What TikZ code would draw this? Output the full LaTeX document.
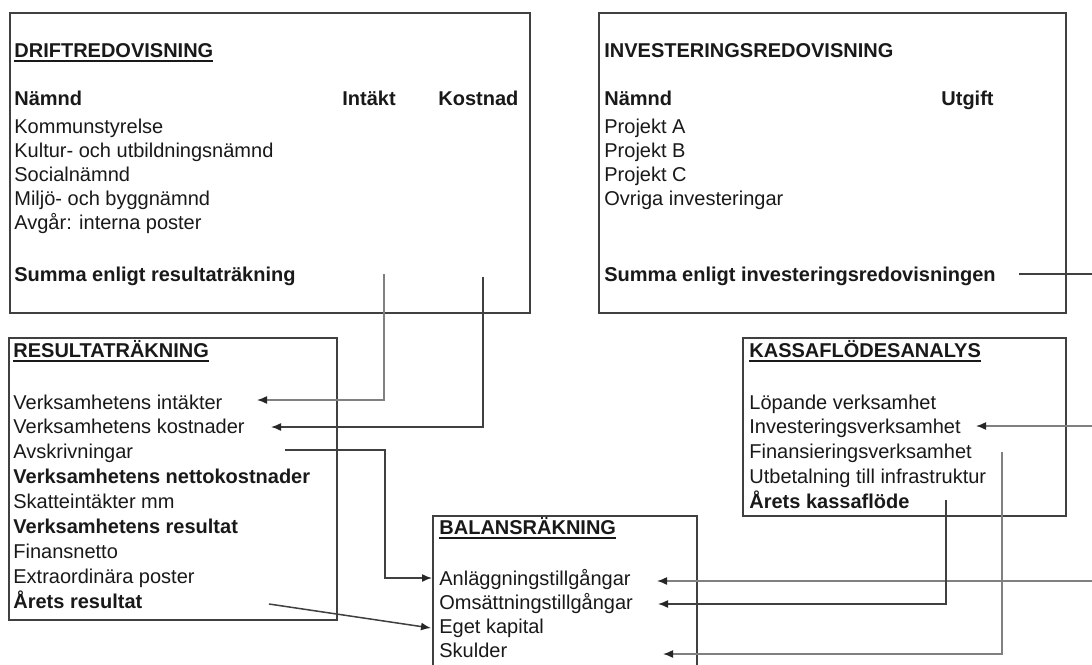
\documentclass[tikz,border=0pt]{standalone}
\usepackage{fontspec}
\setmainfont{Liberation Sans}
\usetikzlibrary{arrows.meta}

\newcommand{\ultitle}[1]{\setbox0\hbox{\bfseries #1}\rlap{\rule[-2.4pt]{\wd0}{0.8pt}}\box0}

\tikzset{
	box/.style = {draw = black!75, line width = 1.1pt},
	row/.style = {anchor = base west, inner sep = 0pt, text = black!90, font = \fontsize{10pt}{12pt}\selectfont},
	head/.style = {row, font = \fontsize{10pt}{12pt}\selectfont\bfseries},
	link/.style = {black!75, line width = 0.75pt},
	linklight/.style = {black!50, line width = 0.75pt},
	tip/.style = {-{Latex[length = 5pt, width = 4pt, black!85]}}
}

\begin{document}
\begin{tikzpicture}[x = 0.5pt, y = -0.5pt]
	\useasboundingbox[fill = white] (0, 0) rectangle (1092, 664);

	% boxes
	\draw[box] (10, 13) rectangle (530, 313);
	\draw[box] (599, 13) rectangle (1066, 313);
	\draw[box] (9, 338) rectangle (337, 620);
	\draw[box] (743, 338) rectangle (1066, 516);
	\draw[box] (433, 670) -- (433, 516) -- (697, 516) -- (697, 670);

	% driftredovisning
	\node[head] (drift) at (14, 57) {\ultitle{DRIFTREDOVISNING}};
	\node[head] (drift-namnd) at (14, 105) {Nämnd};
	\node[head] (drift-intakt) at (342, 105) {Intäkt};
	\node[head] (drift-kostnad) at (438, 105) {Kostnad};
	\node[row] (drift-ks) at (14, 133) {Kommunstyrelse};
	\node[row] (drift-ku) at (14, 157) {Kultur- och utbildningsnämnd};
	\node[row] (drift-so) at (14, 181) {Socialnämnd};
	\node[row] (drift-mb) at (14, 205) {Miljö- och byggnämnd};
	\node[row] (drift-av) at (14, 229) {Avgår: interna poster};
	\node[head] (drift-summa) at (14, 281) {Summa enligt resultaträkning};

	% investeringsredovisning
	\node[head] (inv) at (604, 57) {INVESTERINGSREDOVISNING};
	\node[head] (inv-namnd) at (604, 105) {Nämnd};
	\node[head] (inv-utgift) at (941, 105) {Utgift};
	\node[row] (inv-a) at (604, 133) {Projekt A};
	\node[row] (inv-b) at (604, 157) {Projekt B};
	\node[row] (inv-c) at (604, 181) {Projekt C};
	\node[row] (inv-ov) at (604, 205) {Ovriga investeringar};
	\node[head] (inv-summa) at (604, 281) {Summa enligt investeringsredovisningen};

	% resultatrakning
	\node[head] (res) at (13, 357) {\ultitle{RESULTATRÄKNING}};
	\node[row] (res-int) at (13, 409) {Verksamhetens intäkter};
	\node[row] (res-kost) at (13, 433) {Verksamhetens kostnader};
	\node[row] (res-avs) at (13, 458) {Avskrivningar};
	\node[head] (res-netto) at (13, 483) {Verksamhetens nettokostnader};
	\node[row] (res-skatt) at (13, 508) {Skatteintäkter mm};
	\node[head] (res-vres) at (13, 533) {Verksamhetens resultat};
	\node[row] (res-fin) at (13, 558) {Finansnetto};
	\node[row] (res-extra) at (13, 583) {Extraordinära poster};
	\node[head] (res-arets) at (13, 608) {Årets resultat};

	% kassaflodesanalys
	\node[head] (kassa) at (749, 357) {\ultitle{KASSAFLÖDESANALYS}};
	\node[row] (kassa-lop) at (749, 409) {Löpande verksamhet};
	\node[row] (kassa-inv) at (749, 433) {Investeringsverksamhet};
	\node[row] (kassa-fin) at (749, 458) {Finansieringsverksamhet};
	\node[row] (kassa-utb) at (749, 483) {Utbetalning till infrastruktur};
	\node[head] (kassa-arets) at (749, 508) {Årets kassaflöde};

	% balansrakning
	\node[head] (bal) at (439, 534) {\ultitle{BALANSRÄKNING}};
	\node[row] (bal-anl) at (439, 585) {Anläggningstillgångar};
	\node[row] (bal-oms) at (439, 609) {Omsättningstillgångar};
	\node[row] (bal-eget) at (439, 633) {Eget kapital};
	\node[row] (bal-skuld) at (439, 657) {Skulder};

	% connector ends
	\coordinate (drift-int-out) at (384, 274);
	\coordinate (drift-kost-out) at (483, 277);
	\coordinate (res-int-in) at (257, 400);
	\coordinate (res-kost-in) at (271, 427);
	\coordinate (res-avs-out) at (285, 450);
	\coordinate (res-avs-turn) at (385, 450);
	\coordinate (res-arets-out) at (269, 604);
	\coordinate (bal-anl-in) at (432, 578);
	\coordinate (bal-eget-in) at (431, 628);
	\coordinate (inv-summa-out) at (1019, 274);
	\coordinate (inv-edge) at (1092, 274);
	\coordinate (kassa-inv-edge) at (1092, 426);
	\coordinate (kassa-inv-in) at (976, 426);
	\coordinate (anl-edge) at (1092, 581);
	\coordinate (bal-anl-right) at (657, 581);
	\coordinate (kassa-arets-out) at (946, 500);
	\coordinate (bal-oms-in) at (658, 604);
	\coordinate (kassa-fin-out) at (1002, 452);
	\coordinate (bal-skuld-in) at (663, 654);

	% connectors
	\draw[linklight, tip] (drift-int-out) |- (res-int-in);
	\draw[link, tip] (drift-kost-out) |- (res-kost-in);
	\draw[link, tip] (res-avs-out) -- (res-avs-turn) |- (bal-anl-in);
	\draw[link, tip] (res-arets-out) -- (bal-eget-in);
	\draw[link] (inv-summa-out) -- (inv-edge);
	\draw[linklight, tip] (kassa-inv-edge) -- (kassa-inv-in);
	\draw[linklight, tip] (anl-edge) -- (bal-anl-right);
	\draw[link, tip] (kassa-arets-out) |- (bal-oms-in);
	\draw[linklight, tip] (kassa-fin-out) |- (bal-skuld-in);
\end{tikzpicture}
\end{document}
